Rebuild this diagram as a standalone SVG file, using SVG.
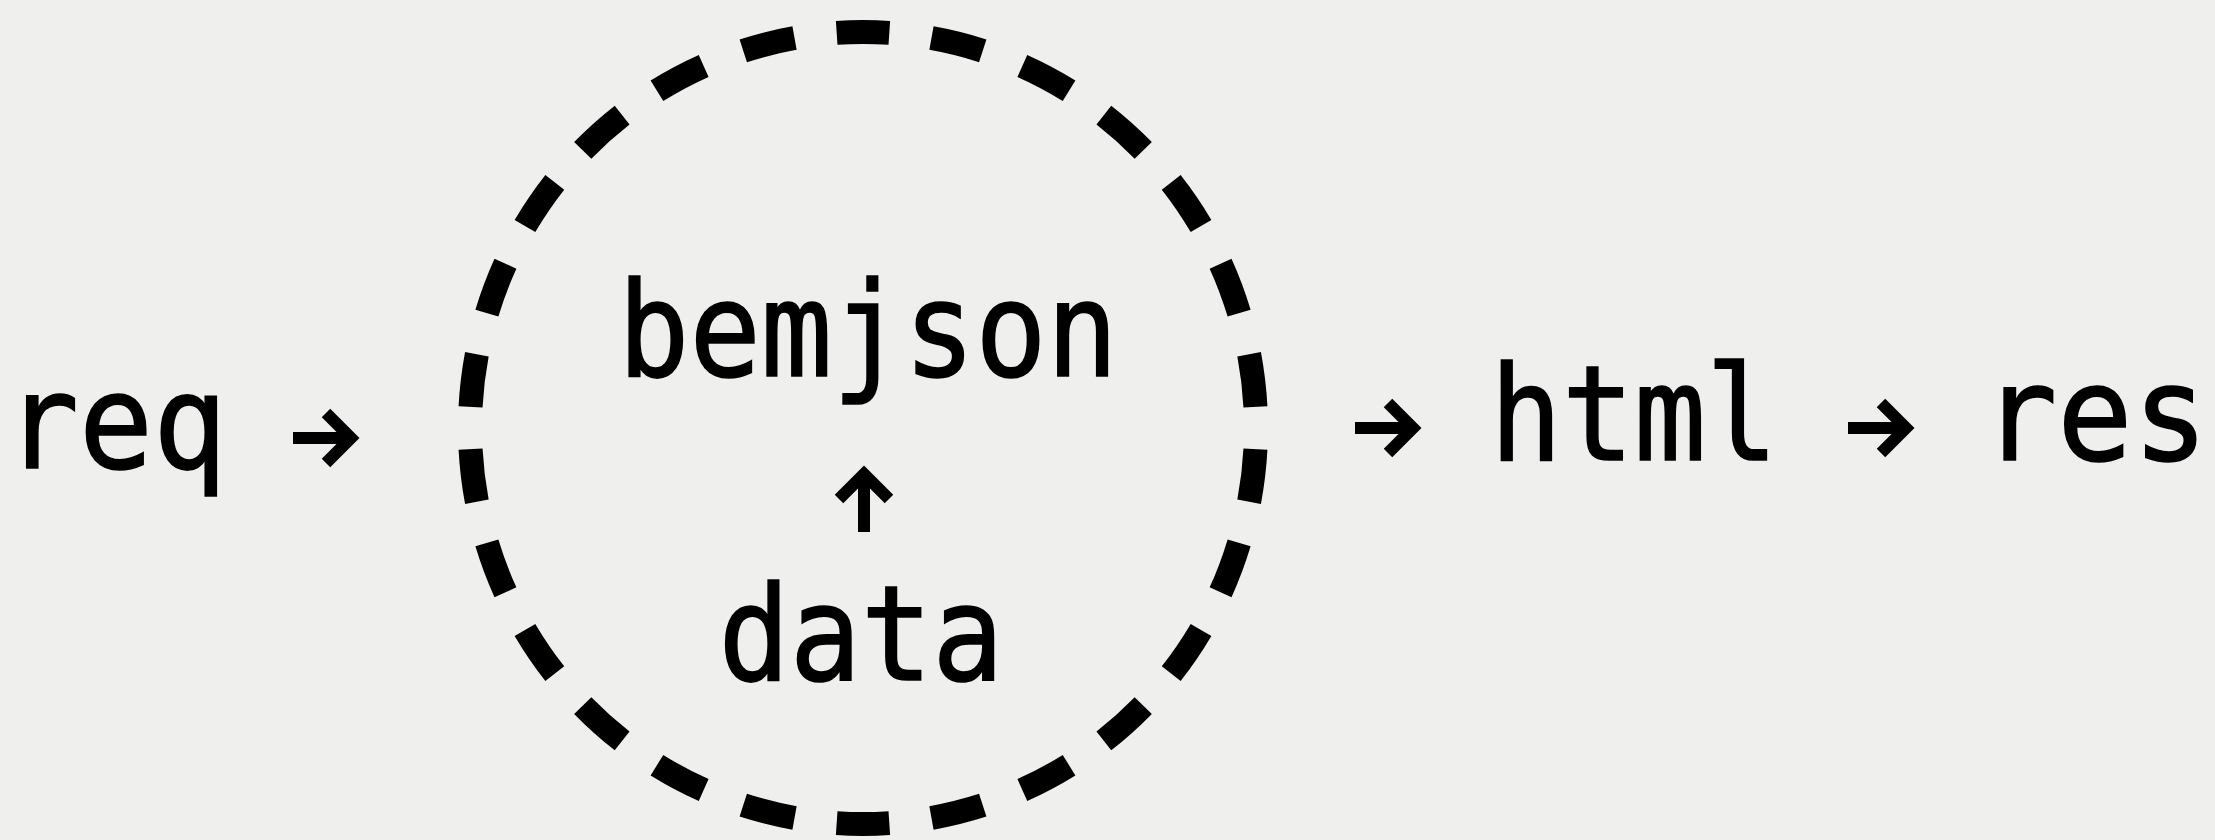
<svg xmlns="http://www.w3.org/2000/svg" width="2215" height="840" viewBox="0 0 2215 840">
  <style>
    .lbl { font-family: "DejaVu Sans Mono", "Liberation Mono", monospace; font-size: 120px; fill: #000; stroke: #000; stroke-width: 1.5; text-anchor: middle; }
    .arr { fill: none; stroke: #000; stroke-width: 12; stroke-linecap: butt; stroke-linejoin: miter; }
  </style>
  <defs>
    <path id="arrow" class="arr" d="M0,0 H58 M33,-25 L58,0 L33,25"/>
  </defs>
  <rect width="2215" height="840" fill="#efefee"/>
  <g id="boundary">
    <ellipse cx="863" cy="428" rx="393" ry="396" fill="none" stroke="#000" stroke-width="24" pathLength="26" stroke-dasharray="0.555 0.445" stroke-dashoffset="0.7775"/>
  </g>
  <g id="req" transform="translate(116,468) scale(1,1.1)"><text class="lbl" x="0" y="0" textLength="222" lengthAdjust="spacingAndGlyphs">req</text></g>
  <g id="bemjson" transform="translate(868,376) scale(1,1.1)"><text class="lbl" x="0" y="0" textLength="500" lengthAdjust="spacingAndGlyphs">bemjson</text></g>
  <g id="data" transform="translate(861,680) scale(1,1.1)"><text class="lbl" x="0" y="0" textLength="285" lengthAdjust="spacingAndGlyphs">data</text></g>
  <g id="html" transform="translate(1634,460) scale(1,1.1)"><text class="lbl" x="0" y="0" textLength="288" lengthAdjust="spacingAndGlyphs">html</text></g>
  <g id="res" transform="translate(2095,460) scale(1,1.1)"><text class="lbl" x="0" y="0" textLength="226" lengthAdjust="spacingAndGlyphs">res</text></g>
  <g id="connectors">
    <use href="#arrow" transform="translate(293,438)"/>
    <use href="#arrow" transform="translate(1355,428)"/>
    <use href="#arrow" transform="translate(1848,428)"/>
    <use href="#arrow" transform="translate(864,532) rotate(-90)"/>
  </g>
</svg>
